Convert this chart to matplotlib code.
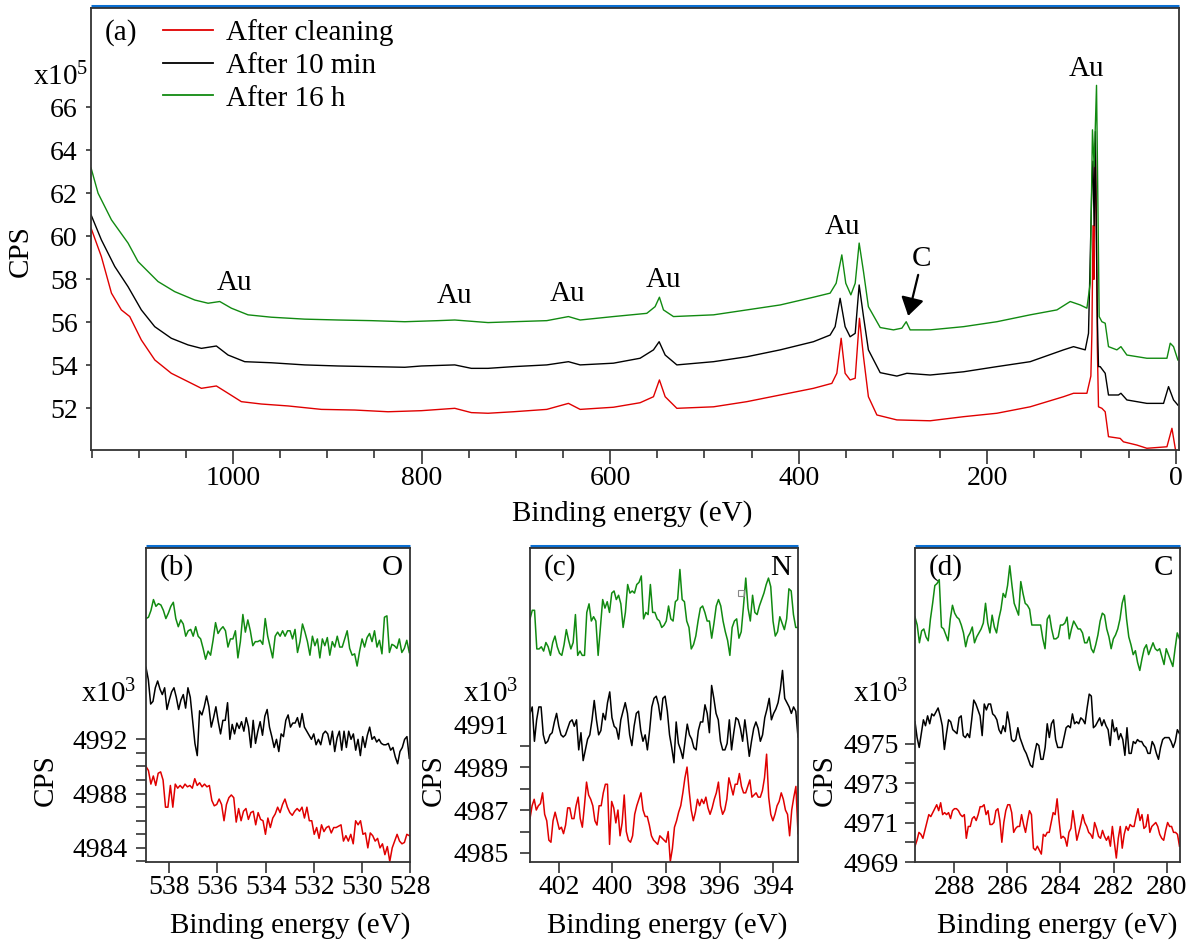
import numpy as np
import matplotlib
matplotlib.use("Agg")
import matplotlib.pyplot as plt
from matplotlib.lines import Line2D

plt.rcParams["font.family"] = ["Liberation Serif", "DejaVu Serif"]
plt.rcParams["mathtext.fontset"] = "custom"
plt.rcParams["mathtext.rm"] = "Liberation Serif"
plt.rcParams["mathtext.it"] = "Liberation Serif:italic"

RED = "#e00000"
GREEN = "#118a11"
BLACK = "#000000"
BLUE = "#0a6ed1"
SPINE = "#333333"

labels = ["After cleaning", "After 10 min", "After 16 h"]

# ---- (a) survey spectra, CPS in units of 1e5 ----
survey_e_red = [1150.6, 1139.7, 1129, 1118.5, 1109.6, 1097.3, 1083, 1065.5, 1047.7, 1033.6,
                1017.7, 1005.3, 991.2, 970, 941.6, 906.3, 870.9, 835.6, 800.2, 764.8, 747.2,
                729.5, 702.6, 667.2, 644.2, 631.8, 596.5, 568.2, 554, 547.7, 541.6, 529.2,
                490.3, 454.9, 419.6, 384.3, 364.8, 359.5, 354.9, 350.7, 345.4, 340, 335.5,
                331.2, 326, 317, 295.8, 260.5, 225.1, 189.7, 154.4, 119, 108.4, 94.2, 90,
                88.9, 87.7, 86.8, 85.4, 84.2, 83.2, 81.9, 78.3, 74.8, 71.3, 58.9, 55.4, 41.2,
                30.6, 9.3, 4.0, 0.5, -1.0]
survey_red = [60.38, 59.06, 57.36, 56.58, 56.27, 55.18, 54.25, 53.63, 53.24, 52.93,
              53.04, 52.70, 52.31, 52.2, 52.11, 51.95, 51.92, 51.84, 51.89, 52.0, 51.8,
              51.77, 51.84, 51.95, 52.23, 51.95, 52.05, 52.26, 52.54, 53.32, 52.54, 52.0,
              52.07, 52.31, 52.62, 52.93, 53.16, 53.63, 55.26, 53.63, 53.32, 53.4, 56.19,
              54.4, 52.54, 51.69, 51.46, 51.42, 51.61, 51.77, 52.07, 52.54, 52.70, 52.70, 53.5,
              55.5, 60.5, 58.0, 64.34, 61.0, 55.0, 52.07, 52.0, 51.84, 50.68, 50.6, 50.44, 50.29,
              50.14, 50.21, 51.07, 50.14, 49.8]

survey_e_black = [1150.6, 1139.7, 1125.5, 1111.4, 1097.3, 1083.1, 1065.5, 1047.7, 1033.6,
                  1017.7, 1005.3, 987.6, 959.4, 924, 888.6, 853.3, 817.8, 800.2, 764.8, 747.2,
                  729.5, 702.6, 667.2, 644.2, 631.8, 596.5, 568.2, 554, 548, 541.6, 529.2,
                  490.3, 454.9, 419.6, 384.3, 366.6, 361.3, 356, 350.7, 345.4, 340, 335.8,
                  331.2, 326, 313.5, 295.8, 285.2, 260.5, 225.1, 189.7, 154.4, 119, 108.4, 96,
                  92.5, 88.9, 87.8, 86.5, 85.2, 84.2, 83.0, 81.9, 80.1, 74.8, 71.3, 60.7, 58.1,
                  51.8, 30.6, 12.9, 7.6, 2.3, -2.3]
survey_black = [61.0, 59.84, 58.6, 57.66, 56.58, 55.8, 55.26, 54.95, 54.79,
                54.9, 54.48, 54.17, 54.12, 54.02, 53.97, 53.94, 53.91, 53.97, 54.02, 53.86,
                53.86, 53.94, 54.02, 54.17, 54.02, 54.1, 54.33, 54.72, 55.1, 54.48, 54.02,
                54.17, 54.4, 54.72, 55.1, 55.41, 55.8, 57.12, 55.8, 55.33, 55.49, 57.74,
                56.27, 54.72, 53.66, 53.5, 53.63, 53.55, 53.7, 53.94, 54.17, 54.72, 54.87, 54.72,
                55.49, 62.48, 63.5, 60.5, 64.88, 60.15, 56.0, 53.94, 53.94, 53.63, 52.62, 52.62, 52.7,
                52.39, 52.23, 52.23, 53.01, 52.39, 52.15]

survey_e_green = [1150.6, 1143.2, 1129, 1111.4, 1100.8, 1079.6, 1061.9, 1040.6, 1026.5,
                  1014.1, 1001.8, 984.1, 959.4, 924, 888.6, 853.3, 817.8, 782.5, 764.8, 729.5,
                  702.6, 667.2, 644.2, 631.8, 596.5, 561.1, 552.3, 547.7, 543.4, 532.8, 490.3,
                  454.9, 419.6, 384.3, 366.6, 360.2, 354.2, 350, 344.6, 340, 335.8, 331.2, 326,
                  313.5, 299.4, 290.5, 285.9, 281.7, 260.5, 225.1, 189.7, 154.4, 126, 111.9,
                  101.3, 94.2, 90.7, 88.3, 86.5, 84.0, 82.5, 81.2, 78.3, 74.8, 71.3, 62.4, 58.1,
                  51.8, 30.6, 9.3, 5.8, 2.3, -2.3]
survey_green = [63.18, 62.01, 60.77, 59.69, 58.83, 57.9, 57.43, 57.04, 56.89,
                56.97, 56.66, 56.35, 56.24, 56.15, 56.11, 56.08, 56.03, 56.08, 56.11, 55.99,
                56.03, 56.08, 56.27, 56.11, 56.27, 56.42, 56.73, 57.17, 56.58, 56.27, 56.35,
                56.58, 56.81, 57.17, 57.36, 57.82, 59.14, 57.82, 57.28, 57.82, 59.69, 58.36, 56.73,
                55.76, 55.65, 55.73, 56.03, 55.65, 55.65, 55.8, 56.03, 56.35, 56.58, 56.97,
                56.81, 56.66, 57.82, 64.96, 63.25, 67.03, 61.39, 56.27, 56.03, 55.96, 54.87, 54.72, 54.87,
                54.48, 54.33, 54.33, 55.03, 54.87, 54.25]

au_labels_e = [998.6, 765.2, 645.6, 543.8, 353.8, 95.0]
au_labels_y = [57.51, 56.92, 57.01, 57.66, 60.10, 67.48]

# ---- (b) O region, CPS in units of 1e3 ----
o_range = (538.97, 528.03)
o_green = [5000.9, 5001.0, 5001.5, 5002.3, 5001.8, 5002.0, 5001.9, 5001.5, 5000.9, 5001.3, 5001.8,
           5002.1, 5000.9, 5000.3, 5000.8, 5000.5, 4999.6, 5000.0, 5000.1, 4999.6, 5000.3, 4999.6,
           4999.4, 4998.7, 4997.9, 4998.5, 4998.2, 4999.3, 5000.6, 4999.8, 5000.1, 5000.3, 5000.0,
           4998.8, 4999.4, 4999.4, 5000.0, 4998.0, 4999.2, 5001.2, 4999.9, 5000.8, 5000.0, 4998.9,
           4999.2, 4999.2, 4999.3, 4999.0, 5000.9, 4999.6, 4998.8, 4998.0, 4999.6, 4999.9, 4999.6,
           5000.0, 4999.6, 5000.0, 5000.0, 4999.4, 5000.1, 4998.4, 4999.2, 5000.5, 4999.9, 4999.2,
           4998.2, 4999.6, 4998.9, 4999.4, 4998.0, 4999.4, 4998.9, 4999.5, 4998.2, 4999.2, 4998.8,
           4999.6, 4998.8, 4998.8, 4999.4, 5000.0, 4998.7, 4998.2, 4998.3, 4997.4, 4998.5, 4999.4,
           4998.8, 4999.5, 4999.8, 4999.2, 5000.0, 4998.8, 4999.3, 4998.3, 5001.0, 5001.1, 4998.4,
           4999.0, 4998.9, 4998.7, 4999.4, 4998.4, 4998.7, 4999.3, 4998.4]
o_black = [4997.3, 4996.4, 4994.6, 4994.8, 4995.8, 4996.3, 4995.7, 4995.3, 4995.8, 4994.2, 4994.9,
           4995.5, 4995.8, 4995.1, 4994.2, 4994.9, 4995.3, 4994.3, 4995.8, 4995.1, 4993.4, 4991.7,
           4990.8, 4994.1, 4993.8, 4994.4, 4995.2, 4994.4, 4992.9, 4993.6, 4994.4, 4993.3, 4992.4,
           4993.4, 4993.4, 4994.7, 4992.0, 4993.1, 4992.4, 4993.2, 4992.8, 4993.3, 4992.6, 4993.6,
           4992.9, 4991.4, 4993.4, 4991.7, 4992.6, 4993.3, 4992.3, 4993.7, 4994.2, 4992.9, 4992.2,
           4991.4, 4992.0, 4991.1, 4992.4, 4992.2, 4993.4, 4993.8, 4992.9, 4993.2, 4993.2, 4993.6,
           4992.9, 4993.9, 4992.9, 4992.6, 4992.3, 4992.0, 4992.4, 4991.6, 4992.0, 4991.6, 4992.4,
           4992.6, 4992.4, 4991.6, 4992.6, 4991.1, 4992.1, 4992.6, 4991.2, 4992.6, 4991.4, 4992.6,
           4992.0, 4992.4, 4991.2, 4992.0, 4990.8, 4992.2, 4991.4, 4992.3, 4992.9, 4992.0, 4992.2,
           4991.8, 4992.0, 4991.7, 4991.6, 4991.6, 4991.7, 4991.2, 4991.4, 4990.7, 4990.2, 4991.1,
           4991.4, 4992.0, 4992.2, 4990.6]
o_red = [4990.0, 4989.7, 4988.7, 4989.3, 4988.6, 4989.5, 4989.6, 4989.0, 4987.0, 4987.0, 4988.6,
         4987.0, 4988.7, 4988.4, 4988.6, 4988.4, 4988.7, 4988.5, 4988.6, 4988.4, 4989.1, 4988.6,
         4988.8, 4988.5, 4988.7, 4988.5, 4988.6, 4987.5, 4987.1, 4987.2, 4987.6, 4987.2, 4986.0,
         4987.2, 4987.7, 4987.9, 4987.7, 4985.9, 4986.9, 4986.0, 4986.7, 4986.9, 4986.1, 4986.6,
         4986.7, 4985.7, 4986.6, 4986.1, 4986.0, 4985.0, 4986.2, 4985.5, 4986.2, 4986.5, 4987.0,
         4986.6, 4987.2, 4987.6, 4987.0, 4986.6, 4986.4, 4986.7, 4986.9, 4986.7, 4987.0, 4986.2,
         4987.0, 4986.0, 4986.0, 4985.0, 4985.5, 4984.7, 4985.7, 4985.2, 4985.5, 4985.6, 4985.1,
         4985.5, 4985.5, 4985.6, 4985.7, 4984.5, 4984.9, 4984.5, 4985.0, 4984.3, 4986.0, 4985.7,
         4986.0, 4985.0, 4985.1, 4984.0, 4985.1, 4984.9, 4984.5, 4984.7, 4984.0, 4984.3, 4983.5,
         4984.1, 4983.0, 4984.0, 4984.5, 4985.0, 4984.5, 4984.3, 4984.4, 4985.0, 4984.9]

# ---- (c) N region ----
n_range = (403.08, 393.07)
n_green = [4995.9, 4996.3, 4996.3, 4994.5, 4994.5, 4994.6, 4994.4, 4994.8, 4994.6, 4994.2, 4994.8,
           4995.1, 4994.6, 4994.3, 4994.2, 4994.7, 4995.4, 4994.9, 4994.5, 4994.8, 4996.1, 4994.2,
           4994.4, 4994.2, 4994.2, 4996.2, 4996.6, 4995.8, 4996.0, 4995.8, 4994.2, 4995.5, 4996.8,
           4996.4, 4996.7, 4996.2, 4997.1, 4997.2, 4996.8, 4997.0, 4996.6, 4995.5, 4996.2, 4997.5,
           4997.1, 4997.2, 4997.1, 4997.5, 4997.6, 4997.9, 4995.9, 4996.2, 4996.1, 4997.5, 4996.2,
           4996.2, 4995.9, 4995.8, 4995.5, 4995.6, 4995.8, 4996.5, 4995.9, 4995.8, 4996.7, 4996.8,
           4998.2, 4996.8, 4996.7, 4995.8, 4995.5, 4994.5, 4994.7, 4995.1, 4995.8, 4996.4, 4996.5,
           4996.2, 4995.8, 4995.8, 4995.0, 4995.7, 4996.5, 4996.8, 4996.5, 4995.8, 4995.3, 4994.9,
           4994.2, 4995.5, 4995.8, 4995.9, 4995.0, 4995.3, 4996.5, 4997.8, 4996.4, 4995.8, 4997.0,
           4996.2, 4996.1, 4996.5, 4996.8, 4997.1, 4997.5, 4997.8, 4997.4, 4995.8, 4995.1, 4995.3,
           4996.0, 4995.7, 4995.4, 4995.9, 4997.3, 4997.2, 4996.1, 4995.5, 4995.5]
n_black = [4991.5, 4991.8, 4990.2, 4991.2, 4991.8, 4991.8, 4990.5, 4990.1, 4990.2, 4990.5, 4990.6,
           4991.1, 4991.5, 4990.9, 4990.5, 4990.4, 4990.5, 4990.8, 4991.1, 4991.2, 4990.9, 4991.2,
           4989.8, 4990.6, 4989.3, 4989.8, 4990.3, 4990.5, 4991.2, 4992.1, 4991.2, 4990.5, 4990.7,
           4991.5, 4991.2, 4992.0, 4992.5, 4991.3, 4990.9, 4990.8, 4990.3, 4991.2, 4991.6, 4992.0,
           4991.5, 4990.5, 4990.0, 4990.9, 4991.5, 4991.6, 4990.7, 4990.2, 4990.5, 4989.8, 4990.7,
           4991.8, 4992.2, 4992.3, 4991.9, 4991.2, 4992.2, 4992.3, 4991.6, 4990.5, 4989.9, 4989.2,
           4991.1, 4990.1, 4989.8, 4989.4, 4990.2, 4991.0, 4990.5, 4990.3, 4989.9, 4989.8, 4990.7,
           4991.1, 4991.1, 4991.9, 4991.5, 4990.6, 4992.8, 4992.2, 4991.5, 4991.2, 4990.2, 4989.8,
           4989.8, 4990.1, 4991.2, 4989.8, 4990.6, 4991.3, 4991.2, 4990.8, 4990.2, 4991.2, 4990.4,
           4989.5, 4990.2, 4990.8, 4991.1, 4990.8, 4990.2, 4990.5, 4991.3, 4991.7, 4992.2, 4991.2,
           4991.5, 4991.7, 4992.0, 4992.6, 4993.5, 4992.2, 4992.0, 4991.8, 4991.5, 4991.8, 4991.6,
           4990.4]
n_red = [4986.6, 4987.2, 4987.5, 4987.0, 4987.2, 4987.3, 4987.8, 4986.8, 4986.5, 4985.6, 4985.5,
         4986.5, 4986.9, 4986.5, 4986.1, 4986.2, 4985.9, 4986.3, 4987.1, 4987.1, 4986.6, 4986.6,
         4987.2, 4987.6, 4986.6, 4986.2, 4987.2, 4988.3, 4987.7, 4987.5, 4987.2, 4986.5, 4986.3,
         4987.2, 4987.2, 4987.8, 4988.2, 4988.2, 4985.4, 4987.4, 4987.1, 4986.4, 4987.0, 4985.8,
         4986.4, 4987.7, 4986.0, 4985.6, 4985.5, 4985.8, 4986.8, 4987.2, 4987.5, 4987.8, 4987.0,
         4986.7, 4986.7, 4986.3, 4985.8, 4985.6, 4985.5, 4985.4, 4985.8, 4985.7, 4985.6, 4985.5,
         4986.0, 4984.6, 4985.2, 4986.2, 4986.5, 4986.9, 4987.2, 4987.8, 4988.5, 4989.0, 4987.9,
         4987.0, 4986.5, 4986.9, 4987.5, 4987.2, 4987.5, 4987.3, 4987.6, 4987.1, 4986.8, 4987.1,
         4987.5, 4987.8, 4988.3, 4987.2, 4986.8, 4987.0, 4987.5, 4988.5, 4988.1, 4987.7, 4988.2,
         4988.2, 4988.7, 4988.1, 4987.8, 4987.8, 4988.1, 4988.4, 4987.6, 4987.7, 4987.8, 4987.6,
         4987.6, 4987.9, 4988.5, 4989.6, 4987.6, 4986.8, 4986.5, 4986.8, 4987.2, 4987.4, 4987.8,
         4987.5, 4987.0, 4986.8, 4985.8, 4987.0, 4987.6, 4988.1, 4985.9]

# ---- (d) C region ----
c_range = (289.47, 279.52)
c_green = [4981.4, 4981.0, 4980.1, 4980.7, 4980.8, 4980.4, 4980.2, 4981.3, 4982.1, 4983.0, 4983.1,
           4983.3, 4980.9, 4980.8, 4980.5, 4980.2, 4981.3, 4982.0, 4981.6, 4981.4, 4981.3, 4981.0,
           4980.6, 4979.9, 4980.4, 4980.6, 4980.9, 4980.1, 4980.4, 4980.6, 4980.8, 4981.1, 4982.1,
           4981.1, 4980.6, 4981.5, 4980.9, 4980.6, 4981.3, 4981.8, 4982.6, 4982.4, 4983.0, 4984.0,
           4983.0, 4982.1, 4981.8, 4981.5, 4983.2, 4982.6, 4982.1, 4982.0, 4981.8, 4981.0, 4981.0,
           4981.0, 4981.0, 4981.0, 4980.3, 4979.8, 4981.3, 4981.5, 4980.8, 4980.3, 4980.3, 4980.4,
           4981.0, 4981.0, 4981.1, 4981.4, 4980.3, 4980.8, 4981.2, 4981.0, 4980.8, 4980.8, 4980.6,
           4980.1, 4980.1, 4980.4, 4979.8, 4979.6, 4980.0, 4980.5, 4981.2, 4981.6, 4981.5, 4980.8,
           4980.4, 4979.8, 4980.3, 4980.5, 4980.8, 4981.3, 4982.1, 4982.5, 4981.3, 4980.4, 4980.0,
           4979.5, 4979.7, 4979.1, 4978.7, 4979.3, 4979.8, 4980.0, 4979.5, 4979.8, 4980.1, 4979.8,
           4979.7, 4979.8, 4979.4, 4979.0, 4979.8, 4979.5, 4979.2, 4978.9, 4979.8, 4980.6, 4980.3]
c_black = [4976.1, 4975.3, 4974.8, 4975.5, 4976.2, 4975.9, 4976.4, 4976.0, 4976.5, 4976.4, 4976.6,
           4976.8, 4976.4, 4975.9, 4974.7, 4975.5, 4976.2, 4976.1, 4975.7, 4975.6, 4975.5, 4976.3,
           4976.4, 4975.4, 4975.3, 4975.5, 4975.3, 4976.2, 4977.2, 4977.0, 4976.7, 4976.4, 4975.4,
           4977.0, 4976.7, 4977.0, 4977.0, 4976.5, 4976.4, 4976.2, 4975.7, 4975.5, 4975.9, 4975.6,
           4976.6, 4976.0, 4975.2, 4975.1, 4975.2, 4975.8, 4975.3, 4975.0, 4974.7, 4974.5, 4974.2,
           4973.9, 4973.8, 4974.5, 4975.0, 4974.9, 4974.2, 4974.2, 4974.8, 4976.0, 4975.3, 4976.0,
           4976.2, 4975.2, 4974.8, 4974.8, 4974.8, 4975.3, 4975.8, 4975.9, 4975.8, 4976.5, 4976.0,
           4976.1, 4976.0, 4976.3, 4976.2, 4976.0, 4976.8, 4977.5, 4977.4, 4975.8, 4975.9, 4976.1,
           4976.3, 4975.9, 4976.2, 4975.9, 4975.7, 4974.9, 4976.2, 4975.6, 4975.8, 4975.2, 4975.5,
           4975.2, 4974.4, 4975.8, 4974.5, 4974.5, 4975.1, 4975.0, 4975.2, 4975.1, 4975.1, 4974.9,
           4974.8, 4974.5, 4974.5, 4975.1, 4974.9, 4974.5, 4974.2, 4974.8, 4975.2, 4975.3, 4975.3,
           4975.3, 4975.1, 4974.8, 4975.1, 4975.7, 4975.5]
c_red = [4969.8, 4970.1, 4970.5, 4970.4, 4970.2, 4970.6, 4971.0, 4971.4, 4971.3, 4971.5, 4971.7,
         4971.9, 4971.6, 4972.0, 4971.4, 4971.5, 4971.4, 4971.5, 4971.2, 4971.6, 4971.7, 4971.7,
         4971.6, 4971.4, 4971.3, 4971.4, 4970.2, 4970.8, 4970.8, 4971.2, 4971.3, 4971.1, 4971.4,
         4971.8, 4971.8, 4971.9, 4971.4, 4971.6, 4970.9, 4970.9, 4971.0, 4971.6, 4971.7, 4971.1,
         4970.0, 4971.0, 4971.6, 4971.9, 4971.9, 4971.5, 4970.5, 4970.7, 4970.8, 4970.8, 4971.4,
         4970.9, 4970.5, 4971.1, 4971.6, 4971.4, 4969.7, 4969.6, 4969.8, 4969.6, 4969.4, 4970.4,
         4970.3, 4970.5, 4970.5, 4971.0, 4971.5, 4971.4, 4972.2, 4971.1, 4970.2, 4970.3, 4970.2,
         4969.8, 4970.5, 4970.7, 4971.6, 4970.9, 4970.1, 4970.5, 4970.9, 4971.4, 4971.0, 4970.8,
         4970.5, 4970.4, 4970.2, 4971.0, 4970.7, 4970.3, 4970.2, 4970.6, 4970.3, 4970.1, 4970.3,
         4969.8, 4970.8, 4970.0, 4969.2, 4970.2, 4970.8, 4969.7, 4970.4, 4970.8, 4970.6, 4970.9,
         4970.8, 4970.8, 4971.3, 4971.7, 4971.1, 4971.4, 4970.7, 4970.8, 4971.4, 4970.5, 4970.8,
         4970.9, 4971.0, 4970.8, 4970.4, 4970.2, 4970.1, 4970.6, 4971.0, 4970.8, 4970.8, 4970.5,
         4970.5, 4970.4, 4969.8]

W, H = 1199, 943
fig = plt.figure(figsize=(W / 100, H / 100), dpi=100)


def px_axes(left, top, right, bottom):
    return fig.add_axes([left / W, 1 - bottom / H, (right - left) / W, (bottom - top) / H])


def ftext(x, y, s, **kw):
    fig.text(x / W, 1 - y / H, s, **kw)


def style(ax, blue_off):
    for sp in ax.spines.values():
        sp.set_color(SPINE)
        sp.set_linewidth(1.3)
    ax.plot([0, 1], [1 + blue_off, 1 + blue_off], transform=ax.transAxes,
            color=BLUE, lw=2.2, clip_on=False, solid_capstyle="butt")
    ax.tick_params(which="both", direction="out", colors=SPINE, labelcolor="black",
                   labelsize=20, width=1.2, top=False, right=False)


# ---------- panel (a) ----------
ax = px_axes(91, 8, 1179, 450)
ax.plot(survey_e_red, survey_red, color=RED, lw=1.0)
ax.plot(survey_e_black, survey_black, color=BLACK, lw=1.0)
ax.plot(survey_e_green, survey_green, color=GREEN, lw=1.0)
ax.set_xlim(1150.7, -3.5)
ax.set_ylim(50.06, 70.63)
style(ax, 0.005)
ax.set_xticks([0, 200, 400, 600, 800, 1000])
ax.set_xticks([e for e in range(50, 1151, 50) if e % 200], minor=True)
ax.set_yticks(range(52, 67, 2))
ax.tick_params(axis="x", which="major", length=10, pad=1.5)
ax.tick_params(axis="x", which="minor", length=5.5)
ax.tick_params(axis="y", length=3.5, pad=6)

for e, y in zip(au_labels_e, au_labels_y):
    ax.text(e, y, "Au", fontsize=21, ha="center", va="baseline")
ax.text(269.7, 58.6, "C", fontsize=21, ha="center", va="baseline")
ax.annotate("", xy=(283.8, 56.3), xytext=(273.2, 58.21),
            arrowprops=dict(arrowstyle="-|>,head_length=0.55,head_width=0.35",
                            color="black", lw=1.6, mutation_scale=20,
                            shrinkA=0, shrinkB=0))

handles = [Line2D([], [], color=c, lw=1.3) for c in (RED, BLACK, GREEN)]
ax.legend(handles, labels, loc="upper left", bbox_to_anchor=((163 - 91) / 1088, 1 - (19 - 8) / 442),
          frameon=False, borderpad=0, borderaxespad=0, handlelength=1.7,
          handletextpad=0.45, labelspacing=0.22, fontsize=21)

ftext(105, 40, "(a)", fontsize=21, ha="left", va="baseline")
ftext(88, 85, r"x10$^{5}$", fontsize=21, ha="right", va="baseline")
ftext(21, 251, "CPS", fontsize=21, rotation=90, ha="center", va="center")
ftext(632, 521, "Binding energy (eV)", fontsize=21, ha="center", va="baseline")

# ---------- panels (b)-(d) ----------
panels = [
    dict(box=(146, 548, 410, 862), rng=o_range, data=(o_red, o_black, o_green),
         xlim=(538.97, 528.03), ylim=(4982.96, 5006.1), xt=[538, 536, 534, 532, 530, 528],
         yt=[4984, 4988, 4992], ym=[4983, 4985, 4986, 4987, 4989, 4990, 4991],
         tag="(b)", elem="O", ypad=6, cps_x=46, xl_x=290, x10_x=136),
    dict(box=(530, 548, 798, 862), rng=n_range, data=(n_red, n_black, n_green),
         xlim=(403.08, 393.07), ylim=(4984.58, 4999.2), xt=[402, 400, 398, 396, 394],
         yt=[4985, 4987, 4989, 4991], ym=[4986, 4988, 4990],
         tag="(c)", elem="N", ypad=8, cps_x=434, xl_x=667, x10_x=518),
    dict(box=(915, 548, 1180, 862), rng=c_range, data=(c_red, c_black, c_green),
         xlim=(289.47, 279.5), ylim=(4969.0, 4984.9), xt=[288, 286, 284, 282, 280],
         yt=[4969, 4971, 4973, 4975], ym=[4970, 4972, 4974],
         tag="(d)", elem="C", ypad=4.5, cps_x=825, xl_x=1057, x10_x=908),
]

for p in panels:
    l, t, r, b = p["box"]
    bx = px_axes(l, t, r, b)
    for vals, col in zip(p["data"], (RED, BLACK, GREEN)):
        e = np.linspace(p["rng"][0], p["rng"][1], len(vals))
        bx.plot(e, vals, color=col, lw=1.1)
    bx.set_xlim(*p["xlim"])
    bx.set_ylim(*p["ylim"])
    style(bx, 0.007)
    bx.set_xticks(p["xt"])
    bx.set_yticks(p["yt"])
    bx.set_yticks(p["ym"], minor=True)
    bx.yaxis.set_minor_formatter(plt.NullFormatter())
    bx.tick_params(axis="x", length=8, pad=1)
    bx.tick_params(axis="y", which="both", length=7, pad=p["ypad"])
    if p["elem"] == "N":
        bx.yaxis.get_major_ticks()[-1].tick1line.set_visible(False)
    ftext(l + 14, 575, p["tag"], fontsize=21, ha="left", va="baseline")
    ftext(r - 7, 575, p["elem"], fontsize=21, ha="right", va="baseline")
    ftext(p["x10_x"], 702, r"x10$^{3}$", fontsize=21, ha="right", va="baseline")
    ftext(p["cps_x"], 780, "CPS", fontsize=21, rotation=90, ha="center", va="center")
    ftext(p["xl_x"], 933, "Binding energy (eV)", fontsize=21, ha="center", va="baseline")

# stray marker in (c)
fig.axes[2].plot([395.21], [4997.12], marker="s", ms=4, mfc="none", mec="#888888", mew=0.8)

fig.savefig("out.png", dpi=100)
plt.close(fig)
